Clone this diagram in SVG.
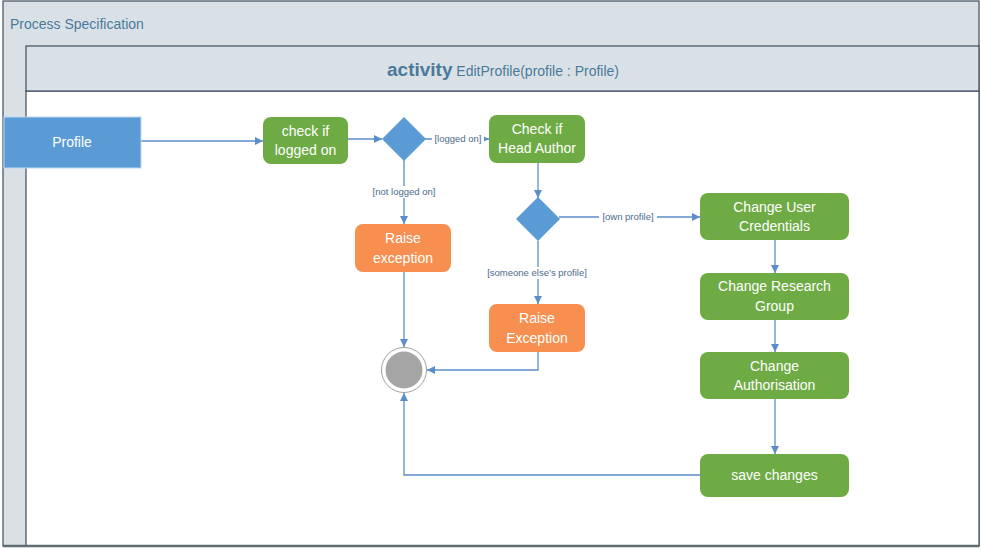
<svg xmlns="http://www.w3.org/2000/svg" width="981" height="548" viewBox="0 0 981 548">
<style>
.band{fill:#DAE1E6;stroke:#3E4E5C;stroke-width:1.2}
.t{font-family:"Liberation Sans",Arial,sans-serif}
.hdr{fill:#4A7A9B;font-size:14px}
.act{fill:#fff;rx:8}
.green{fill:#6EAB44}
.orange{fill:#F68F4F}
.nt{fill:#fff;font-size:14px;text-anchor:middle}
.lbl{fill:#4A6B8C;font-size:9.5px;text-anchor:middle}
.c{fill:none;stroke:#5B8DC8;stroke-width:1.3}
</style>
<defs>
<marker id="ah" viewBox="0 0 10 10" refX="10" refY="5" markerWidth="8" markerHeight="8" markerUnits="userSpaceOnUse" orient="auto">
<path d="M0,0 L10,5 L0,10 z" fill="#5B8DC8"/>
</marker>
</defs>
<rect width="981" height="548" fill="#fff"/>
<g id="frame">
<rect class="band" x="3" y="1" width="976" height="545"/>
<rect x="26" y="91" width="953" height="455" fill="#fff" stroke="#3E4E5C" stroke-width="1.2"/>
<rect class="band" x="26" y="46" width="953" height="45"/>
<line x1="3" y1="546" x2="979" y2="546" stroke="#5F6E70" stroke-width="2.5"/>
<text class="t hdr" x="10" y="29">Process Specification</text>
<text class="t" x="503" y="76" text-anchor="middle" fill="#4A7A9B"><tspan font-weight="bold" font-size="19">activity</tspan><tspan font-size="14"> EditProfile(profile : Profile)</tspan></text>
</g>
<g id="connectors">
<line class="c" x1="141" y1="141" x2="263" y2="141" marker-end="url(#ah)"/>
<line class="c" x1="348" y1="139" x2="382" y2="139" marker-end="url(#ah)"/>
<line class="c" x1="425" y1="139" x2="489" y2="139" marker-end="url(#ah)"/>
<rect x="432" y="132" width="52" height="12" fill="#fff"/>
<text class="t lbl" x="458" y="142">[logged on]</text>
<line class="c" x1="404" y1="160" x2="404" y2="224" marker-end="url(#ah)"/>
<rect x="369" y="186" width="70" height="12" fill="#fff"/>
<text class="t lbl" x="404" y="195">[not logged on]</text>
<line class="c" x1="538" y1="163" x2="538" y2="198" marker-end="url(#ah)"/>
<line class="c" x1="559" y1="217" x2="700" y2="217" marker-end="url(#ah)"/>
<rect x="599" y="211" width="58" height="12" fill="#fff"/>
<text class="t lbl" x="628" y="220">[own profile]</text>
<line class="c" x1="538" y1="241" x2="538" y2="304" marker-end="url(#ah)"/>
<rect x="484" y="267" width="106" height="12" fill="#fff"/>
<text class="t lbl" x="537" y="276">[someone else’s profile]</text>
<line class="c" x1="404" y1="272" x2="404" y2="347" marker-end="url(#ah)"/>
<polyline class="c" points="538,352 538,370 427,370" marker-end="url(#ah)"/>
<line class="c" x1="775" y1="240" x2="775" y2="273" marker-end="url(#ah)"/>
<line class="c" x1="775" y1="320" x2="775" y2="352" marker-end="url(#ah)"/>
<line class="c" x1="775" y1="399" x2="775" y2="454" marker-end="url(#ah)"/>
<polyline class="c" points="700,475 404,475 404,393" marker-end="url(#ah)"/>
</g>
<g id="profile">
<rect x="4" y="117" width="137" height="51" fill="#5B9BD5" stroke="#BDD7EE" stroke-width="1"/>
<text class="t nt" x="72" y="147">Profile</text>
</g>
<g id="check-logged-on">
<rect class="green" x="263" y="117" width="85" height="47" rx="8"/>
<text class="t nt" x="305.5" y="136">check if</text>
<text class="t nt" x="305.5" y="155">logged on</text>
</g>
<g id="decision-logged-on">
<polygon points="404,117 426,139 404,161 382,139" fill="#5B9BD5"/>
</g>
<g id="check-head-author">
<rect class="green" x="489" y="115" width="96" height="48" rx="8"/>
<text class="t nt" x="537" y="134">Check if</text>
<text class="t nt" x="537" y="153">Head Author</text>
</g>
<g id="decision-profile">
<polygon points="538,197 560,219 538,241 516,219" fill="#5B9BD5"/>
</g>
<g id="raise-exception-1">
<rect class="orange" x="355" y="224" width="96" height="48" rx="8"/>
<text class="t nt" x="403" y="243">Raise</text>
<text class="t nt" x="403" y="263">exception</text>
</g>
<g id="raise-exception-2">
<rect class="orange" x="489" y="304" width="96" height="48" rx="8"/>
<text class="t nt" x="537" y="323">Raise</text>
<text class="t nt" x="537" y="343">Exception</text>
</g>
<g id="final">
<circle cx="404" cy="370" r="22.5" fill="#fff" stroke="#A0A0A0" stroke-width="1"/>
<circle cx="404" cy="370" r="18.5" fill="#A5A5A5"/>
</g>
<g id="change-credentials">
<rect class="green" x="700" y="193" width="149" height="47" rx="8"/>
<text class="t nt" x="774.5" y="212">Change User</text>
<text class="t nt" x="774.5" y="231">Credentials</text>
</g>
<g id="change-research-group">
<rect class="green" x="700" y="273" width="149" height="47" rx="8"/>
<text class="t nt" x="774.5" y="291">Change Research</text>
<text class="t nt" x="774.5" y="311">Group</text>
</g>
<g id="change-authorisation">
<rect class="green" x="700" y="352" width="149" height="47" rx="8"/>
<text class="t nt" x="774.5" y="371">Change</text>
<text class="t nt" x="774.5" y="390">Authorisation</text>
</g>
<g id="save-changes">
<rect class="green" x="700" y="454" width="149" height="43" rx="8"/>
<text class="t nt" x="774.5" y="480">save changes</text>
</g>
</svg>
